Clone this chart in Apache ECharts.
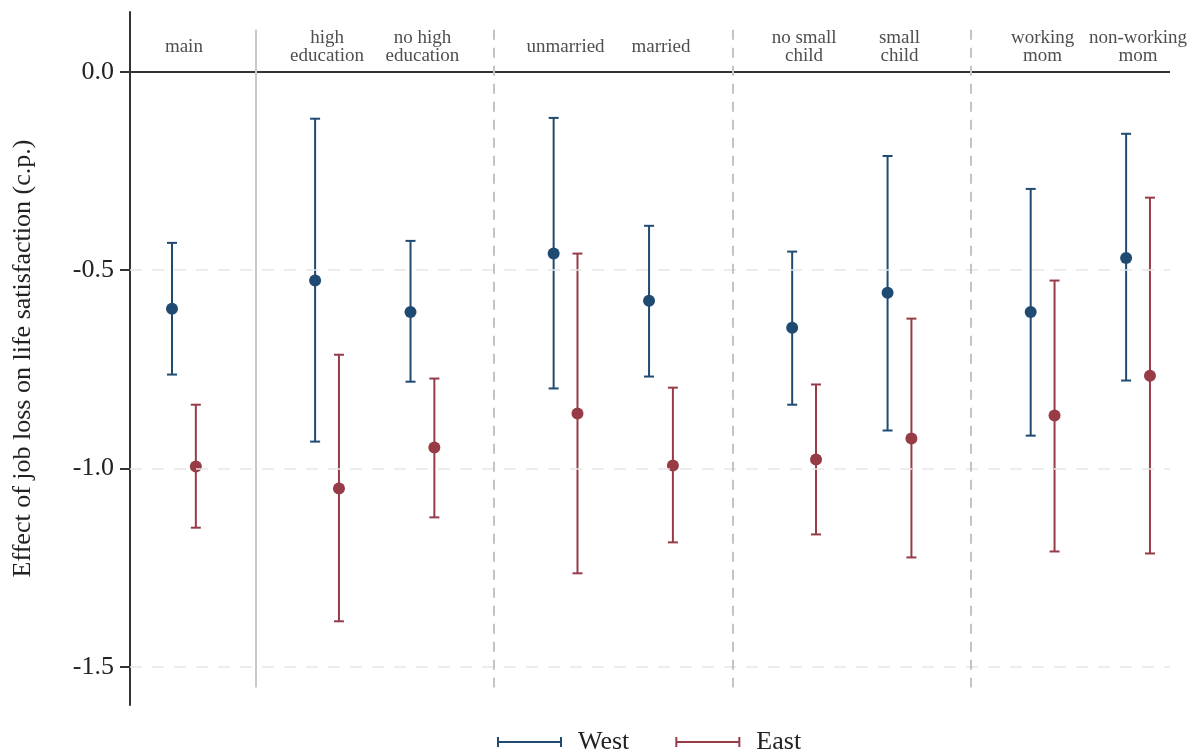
<!DOCTYPE html>
<html><head><meta charset="utf-8">
<script src="https://cdn.jsdelivr.net/npm/echarts@6/dist/echarts.min.js"></script>
<style>html,body{margin:0;padding:0;background:#fff}#c{width:1201px;height:754px}</style>
</head><body><div id="c"></div>
<script>
const categories = ['main','high\neducation','no high\neducation','unmarried','married','no small\nchild','small\nchild','working\nmom','non-working\nmom'];
const groups = [0,1,1,2,2,3,3,4,4];
const westEst = [-0.597,-0.526,-0.605,-0.458,-0.577,-0.645,-0.557,-0.605,-0.469];
const westLo  = [-0.763,-0.932,-0.781,-0.798,-0.768,-0.839,-0.904,-0.917,-0.778];
const westHi  = [-0.431,-0.118,-0.426,-0.116,-0.388,-0.453,-0.212,-0.295,-0.156];
const eastEst = [-0.995,-1.050,-0.947,-0.861,-0.992,-0.977,-0.924,-0.866,-0.766];
const eastLo  = [-1.149,-1.385,-1.123,-1.264,-1.186,-1.166,-1.224,-1.209,-1.214];
const eastHi  = [-0.839,-0.713,-0.773,-0.458,-0.796,-0.788,-0.622,-0.526,-0.317];
const yTicks = [0,-0.5,-1,-1.5];

const WEST='#1f4b73', EAST='#973c46';
const pos = categories.map((c,i)=> i*2 + groups[i]);
const seps = [];
for (let i=1;i<categories.length;i++) if (groups[i]!==groups[i-1]) seps.push((pos[i]+pos[i-1])/2);
const off = 0.25;

function mk(est,lo,hi,d){ return est.map((e,i)=>[pos[i]+d,e,lo[i],hi[i]]); }
function renderBar(color){
  return function(params, api){
    const x=api.value(0), e=api.value(1), lo=api.value(2), hi=api.value(3);
    const pe=api.coord([x,e]), pl=api.coord([x,lo]), ph=api.coord([x,hi]);
    const cw=5, st={stroke:color,lineWidth:2};
    return {type:'group',children:[
      {type:'line',shape:{x1:pl[0],y1:pl[1],x2:ph[0],y2:ph[1]},style:st},
      {type:'line',shape:{x1:pl[0]-cw,y1:pl[1],x2:pl[0]+cw,y2:pl[1]},style:st},
      {type:'line',shape:{x1:ph[0]-cw,y1:ph[1],x2:ph[0]+cw,y2:ph[1]},style:st},
      {type:'circle',shape:{cx:pe[0],cy:pe[1],r:6},style:{fill:color}}
    ]};
  };
}
const legIcon='path://M0,0h2v10h-2z M2,4h61v2h-61z M63,0h2v10h-2z';
const serif='"Liberation Serif","DejaVu Serif",serif';

const sepLines = seps.map((s,i)=>[{coord:[s,0.106],lineStyle:{type:i===0?'solid':[10,8],color:i===0?'#c8c8c8':'#c4c4c4',width:2}},{coord:[s,-1.552]}]);
const hLines = [
  [{coord:[-1.13,0],lineStyle:{color:'#333',width:2,type:'solid'}},{coord:[20.67,0]}],
  ...[-0.5,-1,-1.5].map(v=>[{coord:[-1.13,v],lineStyle:{color:'#e6e6e6',width:1.5,type:[12,10]}},{coord:[20.67,v]}])
];

const chart = echarts.init(document.getElementById('c'));
chart.setOption({
  animation:false,
  textStyle:{fontFamily:serif},
  grid:{left:130,right:31,top:12,bottom:49},
  xAxis:{type:'value',min:-1.13,max:20.67,show:false},
  yAxis:{type:'value',min:-1.596,max:0.151,
    name:'Effect of job loss on life satisfaction (c.p.)',nameLocation:'middle',nameGap:94,nameRotate:90,
    nameTextStyle:{fontFamily:serif,fontSize:26,color:'#222'},
    axisLine:{show:true,onZero:false,lineStyle:{color:'#333',width:2}},
    axisTick:{show:true,length:10,lineStyle:{color:'#333',width:2},customValues:yTicks},
    axisLabel:{customValues:yTicks,fontFamily:serif,fontSize:26,color:'#222',margin:16,formatter:v=>v.toFixed(1)},
    splitLine:{show:false}},
  legend:{bottom:-6,left:492,itemWidth:65,itemHeight:10,itemGap:46,
    textStyle:{fontFamily:serif,fontSize:26,color:'#222',padding:[0,0,0,11]},
    data:[{name:'West',icon:legIcon,itemStyle:{color:WEST}},{name:'East',icon:legIcon,itemStyle:{color:EAST}}]},
  series:[
    {type:'scatter',data:pos.map((p,i)=>[p,0.063]),symbolSize:0,silent:true,
     label:{show:true,position:'inside',fontFamily:serif,fontSize:19,color:'#222',lineHeight:18,
       formatter:p=>categories[p.dataIndex]},
     markLine:{silent:true,symbol:'none',label:{show:false},data:[...hLines,...sepLines]}},
    {type:'custom',name:'West',color:WEST,renderItem:renderBar(WEST),data:mk(westEst,westLo,westHi,-off),encode:{x:0,y:[1,2,3]}},
    {type:'custom',name:'East',color:EAST,renderItem:renderBar(EAST),data:mk(eastEst,eastLo,eastHi,off),encode:{x:0,y:[1,2,3]}}
  ]
});
</script></body></html>
